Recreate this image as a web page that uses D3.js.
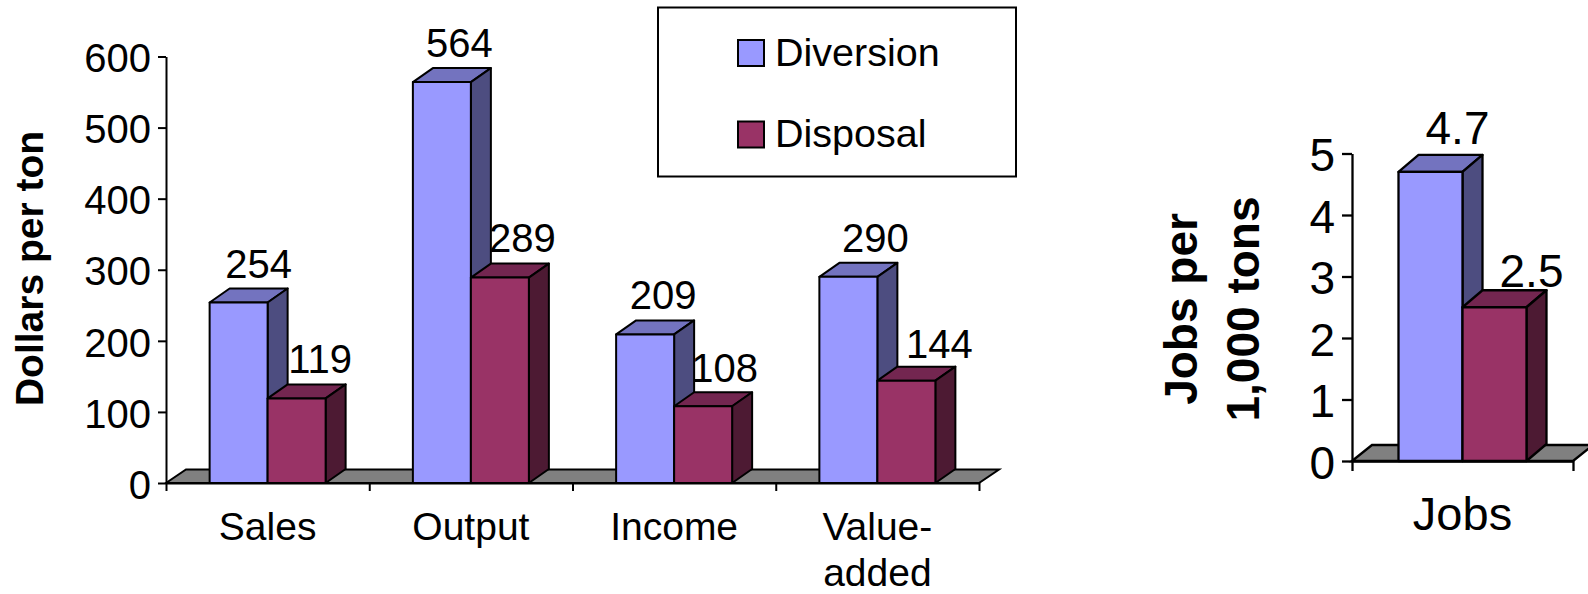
<!DOCTYPE html>
<html>
<head>
<meta charset="utf-8">
<script src="https://cdn.jsdelivr.net/npm/d3@7"></script>
<style>
  html, body { margin: 0; padding: 0; background: #fff; overflow: hidden; }
  svg { display: block; }
  text { font-family: "Liberation Sans", Arial, sans-serif; fill: #000; }
</style>
</head>
<body>
<svg id="chart" width="1588" height="594"></svg>
<script>
// Economic impact per ton, diversion vs. disposal
const seriesNames = ["Diversion", "Disposal"];

const dollarCategories = ["Sales", "Output", "Income", "Value-added"];
const dollarDiversion = [254, 564, 209, 290];
const dollarDisposal = [119, 289, 108, 144];
const dollarTicks = [0, 100, 200, 300, 400, 500, 600];

const jobCategories = ["Jobs"];
const jobDiversion = [4.7];
const jobDisposal = [2.5];
const jobTicks = [0, 1, 2, 3, 4, 5];

// Hand placement of the value labels: sideways from the bar centre, up from its back edge
const dollarLabelShift = [[20, 17.5, 18, 27], [23.5, 22.5, 21.5, 33]];
const dollarLabelLift = [[10.4, 11, 11, 10.5], [11.7, 12, 10.5, 8.6]];
const jobLabelShift = [[27], [37]];
const jobLabelLift = [[11], [3.3]];

// Front, top and side shades of each series
const palette = {
  Diversion: { front: "#9999ff", top: "#7373bf", side: "#4d4d80" },
  Disposal: { front: "#993366", top: "#732650", side: "#4d1a33" }
};

const svg = d3.select("#chart");

function extrudedBar(g, x, y, w, h, depth, shades, sw) {
  const { dx, dy } = depth;
  const style = s => s.attr("stroke", "#000").attr("stroke-width", sw).attr("stroke-linejoin", "round");
  g.append("polygon").call(style).attr("fill", shades.top)
    .attr("points", [[x, y], [x + dx, y - dy], [x + w + dx, y - dy], [x + w, y]].join(" "));
  g.append("polygon").call(style).attr("fill", shades.side)
    .attr("points", [[x + w, y], [x + w + dx, y - dy], [x + w + dx, y + h - dy], [x + w, y + h]].join(" "));
  g.append("rect").call(style).attr("fill", shades.front)
    .attr("x", x).attr("y", y).attr("width", w).attr("height", h);
}

function drawPanel(cfg) {
  const g = svg.append("g");
  const y = d3.scaleLinear().domain(cfg.domain).range([cfg.bottom, cfg.top]);
  const x = d3.scaleBand().domain(cfg.categories).range([cfg.left, cfg.right]);
  const inner = d3.scaleBand().domain(seriesNames)
    .range([x.bandwidth() / 2 - cfg.barWidth, x.bandwidth() / 2 + cfg.barWidth]);
  const depth = cfg.depth;

  // Grey floor under the bars
  g.append("polygon")
    .attr("fill", "#808080").attr("stroke", "#000").attr("stroke-width", cfg.sw)
    .attr("points", [
      [cfg.left, cfg.bottom], [cfg.left + depth.dx, cfg.bottom - cfg.floorDepth],
      [cfg.right + depth.dx, cfg.bottom - cfg.floorDepth], [cfg.right, cfg.bottom]
    ].join(" "));

  // Axes
  const yAxis = d3.axisLeft(y).tickValues(cfg.ticks).tickSize(cfg.tick).tickSizeOuter(0).tickFormat(d3.format("d"));
  const gy = g.append("g").attr("transform", `translate(${cfg.left},0)`).call(yAxis);
  gy.selectAll("text").attr("font-size", cfg.fontSize).attr("x", -cfg.tick - cfg.tickGap).attr("dy", "0.38em");

  const xTickValues = d3.range(cfg.categories.length + 1).map(i => cfg.left + i * x.step());
  const xEdges = d3.axisBottom(d3.scaleIdentity().domain([cfg.left, cfg.right]))
    .tickValues(xTickValues).tickSize(cfg.tick).tickSizeOuter(0).tickFormat("");
  g.append("g").attr("transform", `translate(0,${cfg.bottom})`).call(xEdges);
  g.selectAll(".domain, .tick line").attr("stroke", "#000").attr("stroke-width", cfg.sw);

  // Bars first, then their value labels above everything in the group
  cfg.categories.forEach((c, i) => {
    const values = [cfg.primary[i], cfg.secondary[i]];
    const group = g.append("g");
    seriesNames.forEach((name, j) => {
      const top = y(values[j]);
      extrudedBar(group, x(c) + inner(name), top, inner.bandwidth(), cfg.bottom - top, depth, palette[name], cfg.sw);
    });
    seriesNames.forEach((name, j) => {
      g.append("text")
        .attr("text-anchor", "middle")
        .attr("font-size", cfg.labelSize)
        .attr("x", x(c) + inner(name) + inner.bandwidth() / 2 + cfg.labelShift[j][i])
        .attr("y", y(values[j]) - depth.dy - cfg.labelLift[j][i])
        .text(d3.format(cfg.valueFormat)(values[j]));
    });
    // Category label, wrapped on its hyphen
    const lines = c.includes("-") ? [c.slice(0, c.indexOf("-") + 1), c.slice(c.indexOf("-") + 1)] : [c];
    const label = g.append("text").attr("text-anchor", "middle").attr("font-size", cfg.catSize);
    lines.forEach((line, k) => {
      label.append("tspan")
        .attr("x", x(c) + x.bandwidth() / 2)
        .attr("y", cfg.catY + k * cfg.catLine)
        .text(line);
    });
  });

  // Rotated bold axis title
  const title = g.append("text").attr("text-anchor", "middle").attr("font-weight", "bold").attr("font-size", cfg.titleSize)
    .attr("transform", `translate(${cfg.titleX},${cfg.titleY}) rotate(-90)`);
  cfg.title.forEach((line, k) => {
    title.append("tspan").attr("x", 0).attr("y", k * cfg.titleLine).text(line);
  });
}

drawPanel({
  categories: dollarCategories, primary: dollarDiversion, secondary: dollarDisposal,
  ticks: dollarTicks, domain: [0, 600], valueFormat: "d",
  left: 166, right: 979, top: 56.5, bottom: 483,
  barWidth: 58, depth: { dx: 20, dy: 14 }, floorDepth: 13.5, sw: 2, tick: 8, tickGap: 7,
  fontSize: 40, labelSize: 40, catSize: 39,
  labelShift: dollarLabelShift, labelLift: dollarLabelLift,
  catY: 539.5, catLine: 46,
  title: ["Dollars per ton"], titleSize: 39, titleLine: 0, titleX: 43, titleY: 268.5
});

drawPanel({
  categories: jobCategories, primary: jobDiversion, secondary: jobDisposal,
  ticks: jobTicks, domain: [0, 5], valueFormat: ".1f",
  left: 1352, right: 1573, top: 153.5, bottom: 461,
  barWidth: 64, depth: { dx: 20, dy: 17 }, floorDepth: 16, sw: 2.3, tick: 10, tickGap: 7,
  fontSize: 46, labelSize: 46, catSize: 47,
  labelShift: jobLabelShift, labelLift: jobLabelLift,
  catY: 530, catLine: 0,
  title: ["Jobs per", "1,000 tons"], titleSize: 46, titleLine: 62, titleX: 1197, titleY: 309
});

// Legend box
const legend = svg.append("g");
legend.append("rect").attr("x", 658).attr("y", 7.5).attr("width", 358).attr("height", 169)
  .attr("fill", "#fff").attr("stroke", "#000").attr("stroke-width", 2);
const legendY = d3.scalePoint().domain(seriesNames).range([53, 134.5]);
seriesNames.forEach(name => {
  legend.append("rect").attr("x", 738).attr("y", legendY(name) - 13).attr("width", 26).attr("height", 26)
    .attr("fill", palette[name].front).attr("stroke", "#000").attr("stroke-width", 2);
  legend.append("text").attr("x", 775).attr("y", legendY(name) + 12.5).attr("font-size", 39.5).text(name);
});
</script>
</body>
</html>
